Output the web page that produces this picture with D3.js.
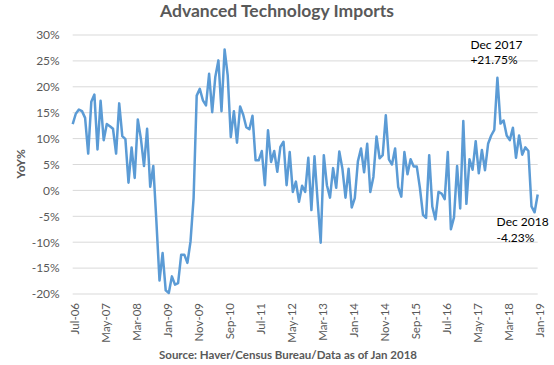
<!DOCTYPE html>
<html>
<head>
<meta charset="utf-8">
<script src="https://cdn.jsdelivr.net/npm/d3@7/dist/d3.min.js"></script>
<style>
  body { margin: 0; background: #fff; }
  svg text { font-family: Lato, "Open Sans", sans-serif; }
</style>
</head>
<body>
<div id="chart"></div>
<script>
// monthly YoY % change, Jul-06 .. Jan-19
const startMonth = new Date(2006, 6, 1);
const yoy = [
  12.8, 14.8, 15.6, 15.3, 14.0, 7.1, 17.1, 18.5, 7.9, 17.3,
  9.7, 12.8, 12.4, 11.9, 7.1, 16.8, 10.5, 9.9, 1.5, 8.3,
  2.4, 13.7, 10.0, 4.7, 11.9, 0.7, 4.7, -6.0, -17.4, -12.1,
  -19.3, -19.8, -16.6, -18.2, -17.9, -12.4, -12.4, -14.0, -9.9, -1.5,
  18.3, 19.6, 17.4, 16.4, 22.5, 15.1, 21.9, 25.1, 15.3, 27.2,
  22.2, 10.3, 15.3, 9.2, 16.2, 14.6, 12.2, 11.8, 14.4, 5.8,
  5.8, 7.6, 1.0, 11.6, 5.5, 7.6, 3.6, 8.4, 9.4, 1.0,
  7.4, -0.3, 1.7, -2.2, 0.9, -0.3, 6.3, -3.8, 6.6, -2.0,
  -10.1, 6.8, 1.0, -1.4, 4.3, 0.5, 7.5, 4.2, -1.4, 4.2,
  -3.3, -1.5, 5.6, 8.1, 3.5, 9.0, -0.3, 2.6, 10.4, 6.2,
  6.8, 14.5, 6.0, 5.0, 8.1, 0.7, -1.2, 7.4, 3.1, 6.0,
  4.6, 4.6, 0.5, -4.7, -5.3, 6.8, -3.1, -5.6, -0.3, -0.6,
  -1.7, 7.4, -7.5, -5.2, 4.7, -3.5, 13.4, -2.6, 6.0, 4.0,
  9.5, 3.3, 7.8, 3.9, 9.0, 10.6, 11.7, 21.75, 12.9, 13.5,
  10.6, 9.7, 12.1, 6.3, 10.6, 6.9, 8.3, 7.6, -3.1, -4.23,
  -0.8
];
const tickLabels = ["Jul-06", "May-07", "Mar-08", "Jan-09", "Nov-09", "Sep-10", "Jul-11", "May-12",
  "Mar-13", "Jan-14", "Nov-14", "Sep-15", "Jul-16", "May-17", "Mar-18", "Jan-19"];
const yTicks = [-20, -15, -10, -5, 0, 5, 10, 15, 20, 25, 30];
const notes = [
  { month: "Dec-17", lines: ["Dec 2017", "+21.75%"] },
  { month: "Dec-18", lines: ["Dec 2018", "-4.23%"] }
];

const width = 554, height = 365;
const margin = { top: 35, right: 16.3, bottom: 71, left: 72.7 };
const fmt = d3.timeFormat("%b-%y");
const months = yoy.map((d, i) => fmt(d3.timeMonth.offset(startMonth, i)));
const data = yoy.map((v, i) => ({ month: months[i], value: v }));

const svg = d3.select("#chart").append("svg")
  .attr("width", width)
  .attr("height", height);

const x = d3.scalePoint()
  .domain(months)
  .range([margin.left, width - margin.right]);

const y = d3.scaleLinear()
  .domain([-20, 30])
  .range([height - margin.bottom, margin.top]);

// gridlines
svg.append("g")
  .selectAll("line")
  .data(yTicks)
  .join("line")
  .attr("x1", margin.left)
  .attr("x2", width - margin.right)
  .attr("y1", d => y(d))
  .attr("y2", d => y(d))
  .attr("stroke", "#d9d9d9")
  .attr("stroke-width", 1);

// y axis
const yAxis = svg.append("g")
  .attr("transform", `translate(${margin.left - 6},0)`)
  .call(d3.axisLeft(y).tickValues(yTicks).tickFormat(d => d + "%").tickSize(0).tickPadding(7));
yAxis.select(".domain").remove();
yAxis.selectAll("text")
  .attr("fill", "#595959")
  .style("font-size", "12px");

// x axis
const xAxis = svg.append("g")
  .attr("transform", `translate(0,${height - margin.bottom})`)
  .call(d3.axisBottom(x).tickValues(tickLabels).tickSize(0));
xAxis.select(".domain").remove();
xAxis.selectAll("text")
  .attr("fill", "#595959")
  .style("font-size", "11.5px")
  .attr("transform", "rotate(-90)")
  .attr("text-anchor", "end")
  .attr("x", -9)
  .attr("y", 2)
  .attr("dy", "0.32em");

// line
const line = d3.line()
  .x(d => x(d.month))
  .y(d => y(d.value));

svg.append("path")
  .datum(data)
  .attr("fill", "none")
  .attr("stroke", "#5b9bd5")
  .attr("stroke-width", 2.5)
  .attr("stroke-linejoin", "round")
  .attr("d", line);

// annotations
const noteOffsets = [{ dx: -27, dy: -29 }, { dx: -38, dy: 14 }];
notes.forEach((n, k) => {
  const v = data.find(d => d.month === n.month).value;
  const t = svg.append("text")
    .attr("x", x(n.month) + noteOffsets[k].dx)
    .attr("y", y(v) + noteOffsets[k].dy)
    .attr("fill", "#000")
    .style("font-size", "12px");
  t.selectAll("tspan")
    .data(n.lines)
    .join("tspan")
    .attr("x", x(n.month) + noteOffsets[k].dx)
    .attr("dy", (d, i) => i ? 15.5 : 0)
    .text(d => d);
});

// title
svg.append("text")
  .attr("x", 277)
  .attr("y", 17)
  .attr("text-anchor", "middle")
  .attr("fill", "#595959")
  .style("font-size", "17.5px")
  .style("font-weight", "bold")
  .text("Advanced Technology Imports");

// y label
svg.append("text")
  .attr("transform", `translate(25,164) rotate(-90)`)
  .attr("text-anchor", "middle")
  .attr("fill", "#595959")
  .style("font-size", "12px")
  .style("font-weight", "bold")
  .text("YoY%");

// source
svg.append("text")
  .attr("x", 288)
  .attr("y", 359)
  .attr("text-anchor", "middle")
  .attr("fill", "#595959")
  .style("font-size", "11.5px")
  .style("font-weight", "bold")
  .text("Source: Haver/Census Bureau/Data as of Jan 2018");
</script>
</body>
</html>
